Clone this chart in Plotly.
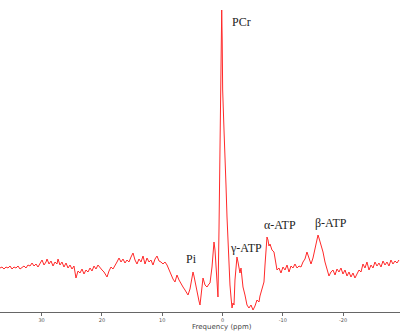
import plotly.graph_objects as go

# Frequency axis (ppm) and signal intensity (a.u.)
ppm = [36.90, 36.57, 36.24, 35.90, 35.57, 35.24, 34.91, 34.58, 34.25, 33.91,
       33.58, 33.25, 32.92, 32.59, 32.26, 31.92, 31.59, 31.26, 30.93, 30.60,
       30.27, 29.93, 29.60, 29.27, 29.10, 28.77, 28.44, 28.11, 27.78, 27.45,
       27.28, 26.95, 26.62, 26.29, 25.95, 25.62, 25.29, 24.96, 24.63, 24.30,
       23.96, 23.63, 23.30, 22.97, 22.64, 22.31, 21.97, 21.64, 21.31, 20.98,
       20.65, 20.32, 19.98, 19.65, 19.32, 19.15, 18.82, 18.49, 18.16, 17.83,
       17.50, 17.16, 16.83, 16.50, 16.17, 15.84, 15.51, 15.17, 14.84, 14.51,
       14.18, 13.85, 13.52, 13.18, 12.85, 12.52, 12.19, 11.86, 11.53, 11.19,
       10.86, 10.53, 10.20, 9.87, 9.54, 9.20, 8.87, 8.54, 8.21, 7.88,
       7.55, 7.21, 6.88, 6.55, 6.22, 5.89, 5.72, 5.39, 5.06, 4.89,
       4.73, 4.56, 4.23, 3.90, 3.73, 3.57, 3.23, 2.90, 2.57, 2.24,
       2.07, 1.74, 1.41, 1.24, 1.08, 0.91, 0.75, 0.58, 0.41, 0.30,
       0.20, 0.13, 0.05, -0.03, -0.25, -0.41, -0.58, -0.75, -0.91, -1.08,
       -1.24, -1.41, -1.58, -1.74, -1.91, -2.07, -2.24, -2.40, -2.57, -2.74,
       -2.90, -3.07, -3.23, -3.40, -3.73, -4.06, -4.39, -4.73, -5.06, -5.39,
       -5.72, -6.05, -6.22, -6.55, -6.72, -6.88, -7.05, -7.21, -7.38, -7.55,
       -7.71, -7.88, -8.21, -8.54, -8.71, -8.87, -9.04, -9.37, -9.70, -10.03,
       -10.37, -10.70, -11.03, -11.36, -11.69, -12.02, -12.36, -12.69, -13.02, -13.35,
       -13.68, -14.01, -14.35, -14.68, -15.01, -15.34, -15.67, -15.84, -16.00, -16.34,
       -16.67, -17.00, -17.33, -17.66, -17.99, -18.33, -18.66, -18.99, -19.32, -19.65,
       -19.98, -20.32, -20.65, -20.98, -21.31, -21.64, -21.97, -22.31, -22.64, -22.97,
       -23.30, -23.63, -23.96, -24.30, -24.63, -24.96, -25.29, -25.62, -25.95, -26.29,
       -26.62, -26.95, -27.28, -27.61, -27.94, -28.27, -28.61, -28.94, -29.27]

signal = [44, 45, 43, 45, 44, 46, 43, 45, 44, 46,
          43, 45, 46, 44, 47, 46, 49, 46, 48, 45,
          49, 52, 47, 50, 53, 48, 51, 46, 50, 48,
          53, 47, 50, 45, 49, 44, 47, 43, 46, 34,
          41, 39, 43, 38, 42, 40, 44, 41, 46, 43,
          47, 44, 42, 40, 36, 35, 41, 45, 43, 46,
          50, 54, 50, 53, 49, 52, 50, 55, 59, 52,
          48, 53, 50, 56, 48, 54, 50, 52, 47, 53,
          56, 51, 50, 48, 50, 47, 42, 38, 33, 30,
          37, 32, 28, 25, 22, 19, 17, 23, 34, 40,
          36, 30, 19, 11, 7, 14, 34, 27, 25, 28,
          29, 45, 70, 62, 49, 27, 15, 82, 162, 222,
          282, 302, 272, 222, 182, 162, 127, 95, 67, 45,
          27, 15, 4, 9, 7, 32, 47, 55, 50, 42,
          39, 44, 32, 25, 17, 7, 4, 7, 2, 6,
          12, 10, 16, 22, 25, 30, 47, 64, 75, 72,
          66, 68, 62, 60, 54, 48, 42, 44, 39, 45,
          42, 47, 40, 46, 44, 48, 44, 46, 45, 50,
          53, 60, 54, 48, 54, 64, 72, 77, 74, 68,
          60, 50, 42, 36, 40, 42, 37, 43, 40, 44,
          38, 42, 36, 40, 35, 39, 34, 38, 42, 40,
          48, 44, 50, 42, 47, 44, 50, 46, 49, 45,
          51, 47, 50, 46, 52, 48, 51, 49, 52]

labels = ["PCr", "Pi", "γ-ATP", "α-ATP", "β-ATP"]
label_ppm = [-3.07, 5.06, -3.98, -9.54, -17.99]
label_int = [290, 53, 64, 87, 89]

tick_vals = [30, 20, 10, 0, -10, -20]
tick_text = ["30", "20", "10", "0", "-10", "-20"]

fig = go.Figure()
fig.add_trace(go.Scatter(x=ppm, y=signal, mode="lines",
                         line=dict(color="#ff2a2a", width=1),
                         hoverinfo="skip", showlegend=False))

for t, xv, yv in zip(labels, label_ppm, label_int):
    fig.add_annotation(x=xv, y=yv, text=t, showarrow=False, xref="x", yref="y",
                       font=dict(family="Liberation Serif", size=12, color="#222"))

fig.add_annotation(x=0, y=0, xref="x", yref="paper", yshift=-9, yanchor="top",
                   text="Frequency (ppm)", showarrow=False,
                   font=dict(family="DejaVu Sans", size=7, color="#444"))

fig.update_layout(
    width=400, height=332,
    margin=dict(l=0, r=0, t=0, b=20, autoexpand=False),
    paper_bgcolor="white", plot_bgcolor="white",
    xaxis=dict(range=[36.90, -29.44], tickvals=tick_vals, ticktext=tick_text,
               automargin=False,
               showgrid=False, zeroline=False, showline=True, linecolor="#666",
               linewidth=1, ticks="outside", ticklen=3, tickcolor="#666",
               tickfont=dict(family="DejaVu Sans", size=5, color="#555")),
    yaxis=dict(range=[0, 312], visible=False, showgrid=False, zeroline=False,
               automargin=False),
)

fig.write_html("out.html", config={"displayModeBar": False},
               post_script="document.body.style.margin='0';document.body.style.overflow='hidden';")
